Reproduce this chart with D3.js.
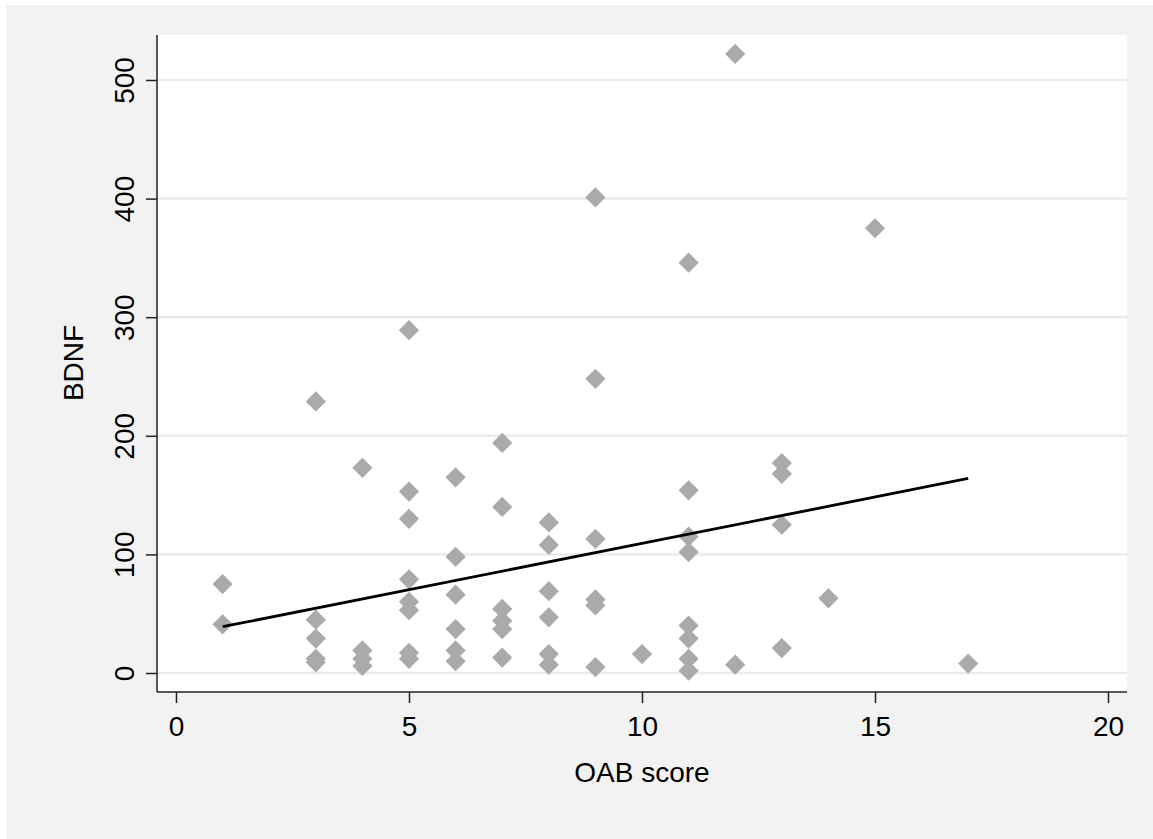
<!DOCTYPE html>
<html>
<head>
<meta charset="utf-8">
<script src="https://cdn.jsdelivr.net/npm/d3@7"></script>
<style>
  body { margin: 0; background: #fff; }
  text { font-family: "Liberation Sans", Arial, sans-serif; fill: #000; }
</style>
</head>
<body>
<div id="chart"></div>
<script>
// OAB score (x) and BDNF (y)
const oab = [
  1, 1,
  3, 3, 3, 3, 3,
  4, 4, 4, 4,
  5, 5, 5, 5, 5, 5, 5, 5,
  6, 6, 6, 6, 6, 6,
  7, 7, 7, 7, 7, 7,
  8, 8, 8, 8, 8, 8,
  9, 9, 9, 9, 9, 9,
  10,
  11, 11, 11, 11, 11, 11, 11, 11,
  12, 12,
  13, 13, 13, 13,
  14, 15, 17
];
const bdnf = [
  75, 41,
  229, 45, 29, 12, 9,
  173, 19, 12, 6,
  289, 153, 130, 79, 60, 53, 17, 12,
  165, 98, 66, 37, 19, 10,
  194, 140, 54, 44, 37, 13,
  127, 108, 69, 47, 16, 7,
  401, 248, 113, 62, 57, 5,
  16,
  346, 154, 115, 102, 40, 29, 12, 2,
  522, 7,
  177, 168, 125, 21,
  63, 375, 8
];
// fitted line end points
const fitX = [1, 17];
const fitY = [39, 164];

const xTicks = [0, 5, 10, 15, 20];
const yTicks = [0, 100, 200, 300, 400, 500];

const width = 1153, height = 839;
const plot = {left: 157, right: 1127, top: 35, bottom: 692};

const svg = d3.select('#chart').append('svg')
    .attr('width', width)
    .attr('height', height);

// outer grey background
svg.append('rect')
    .attr('x', 6).attr('y', 5)
    .attr('width', width - 6).attr('height', height - 5)
    .attr('fill', '#f2f2f2');

// plot region
svg.append('rect')
    .attr('x', plot.left).attr('y', plot.top)
    .attr('width', plot.right - plot.left).attr('height', plot.bottom - plot.top)
    .attr('fill', '#fff');

const x = d3.scaleLinear().domain([0, 20]).range([176, 1108]);
const y = d3.scaleLinear().domain([0, 500]).range([673, 80]);

// gridlines
svg.append('g')
  .selectAll('line')
  .data(yTicks)
  .join('line')
    .attr('x1', plot.left).attr('x2', plot.right)
    .attr('y1', d => y(d)).attr('y2', d => y(d))
    .style('stroke', '#ebebeb')
    .style('stroke-width', 2.5);

// markers: diamonds
const diamond = d3.symbol(d3.symbolSquare, 205)();
svg.append('g')
  .selectAll('path')
  .data(oab.map((v, i) => [v, bdnf[i]]))
  .join('path')
    .attr('d', diamond)
    .attr('transform', d => `translate(${x(d[0])},${y(d[1])}) rotate(45)`)
    .style('fill', '#aaaaaa');

// fitted values
svg.append('path')
    .datum(fitX.map((v, i) => [v, fitY[i]]))
    .attr('d', d3.line().x(d => x(d[0])).y(d => y(d[1])))
    .style('fill', 'none')
    .style('stroke', '#000')
    .style('stroke-width', 2.8);

// axes
const xAxis = svg.append('g')
    .attr('transform', `translate(0,${plot.bottom})`)
    .call(d3.axisBottom(x).tickValues(xTicks).tickSize(11).tickPadding(6).tickSizeOuter(0));
xAxis.select('.domain').attr('d', `M${plot.left},0H${plot.right}`);

const yAxis = svg.append('g')
    .attr('transform', `translate(${plot.left},0)`)
    .call(d3.axisLeft(y).tickValues(yTicks).tickSize(11).tickSizeOuter(0));
yAxis.select('.domain').attr('d', `M0,${plot.top}V${plot.bottom}`);

[xAxis, yAxis].forEach(a => {
  a.select('.domain').style('stroke', '#222').style('stroke-width', 1.5);
  a.selectAll('.tick line').style('stroke', '#222').style('stroke-width', 1.5);
  a.selectAll('text').style('font-size', '28px').style('font-family', '"Liberation Sans", Arial, sans-serif');
});

xAxis.selectAll('.tick text')
    .attr('y', 0)
    .attr('dy', null)
    .attr('transform', 'translate(0,44)');

// y tick labels are vertical, as in Stata
yAxis.selectAll('.tick text')
    .attr('x', null).attr('dy', null)
    .attr('text-anchor', 'middle')
    .attr('transform', 'translate(-23,0) rotate(-90)');

// axis titles
svg.append('text')
    .attr('x', 642).attr('y', 782)
    .attr('text-anchor', 'middle')
    .style('font-size', '28px')
    .text('OAB score');

svg.append('text')
    .attr('transform', 'translate(83,363) rotate(-90)')
    .attr('text-anchor', 'middle')
    .style('font-size', '28px')
    .text('BDNF');
</script>
</body>
</html>
